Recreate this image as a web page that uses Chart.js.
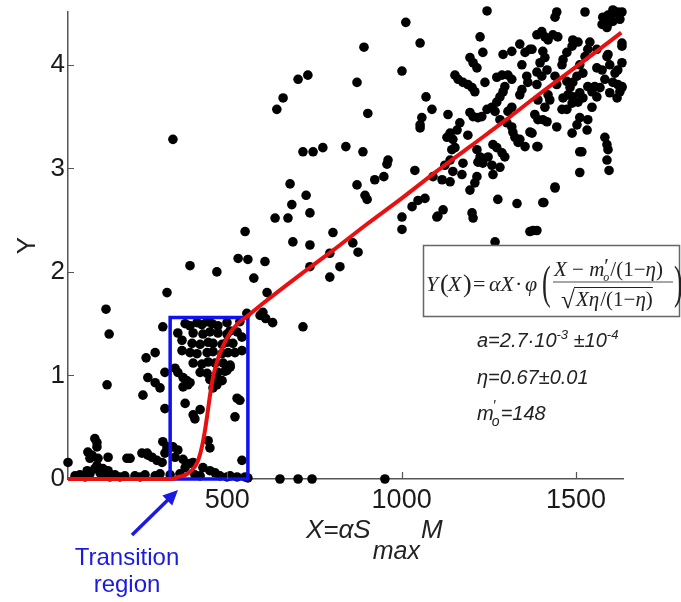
<!DOCTYPE html>
<html>
<head>
<meta charset="utf-8">
<script src="https://cdn.jsdelivr.net/npm/chart.js@4.4.1/dist/chart.umd.min.js"></script>
<style>
  html, body { margin: 0; padding: 0; background: #fff; }
  #wrap { width: 681px; height: 602px; position: relative; }
</style>
</head>
<body>
<div id="wrap"><canvas id="myChart"></canvas></div>
<script>
// Punkte nahe Null (links unten)
const baselinePts = [
  [43,0.16],[63,0.03],[77,0.04],[92,0.02],[98,0.08],[100,0.26],[106,0.20],[106,0.05],[112,0.23],[120,0.39],
  [120,0.10],[126,0.35],[126,0.31],[126,0.13],[129,0.20],[135,0.06],[143,0.10],[149,0.03],[158,0.21],[158,0.08],
  [163,0.02],[178,0.04],[192,0.02],[206,0.03],[212,0.20],[221,0.20],[235,0.03],[250,0.02],[255,0.25],[264,0.04],
  [270,0.25],[272,0.23],[284,0.21],[293,0.03],[298,0.18],[307,0.05],[313,0.16],[315,0.36],[321,0.25],[327,0.31],
  [327,0.28],[336,0.04],[344,0.31],[350,0.21],[358,0.28],[364,0.05],[373,0.19],[379,0.11],[393,0.15],[402,0.16],
  [407,0.04],[422,0.03],[430,0.11],[450,0.08],[465,0.06],[479,0.03],[499,0.02],[508,0.03],[528,0.02],[542,0.18],
  [551,0.02],[559,0.01],[651,0],[703,0],[743,0],[952,0]
];

// Punkte im Übergangsbereich
const transitionPts = [
  [152,1.64],[161,1.40],[155,0.91],[258,0.81],[267,1.17],[272,0.98],[293,1.22],[293,0.93],[307,0.88],[315,1.47],
  [321,1.03],[321,0.68],[350,1.07],[358,1.03],[373,0.98],[384,0.95],[393,0.93],[373,0.89],[387,0.91],[379,0.73],
  [370,1.34],[370,1.24],[402,0.62],[407,0.58],[422,0.67],[445,0.37],[450,0.30],[459,0.88],[470,0.91],[528,0.78],
  [522,0.60],[499,1.05],[508,1.08],[536,1.52],[528,1.42],[542,1.37],[542,1.24],[536,0.76],
  [379,1.50],[393,1.48],[413,1.51],[427,1.49],[442,1.52],[456,1.50],[473,1.48],[499,1.51],
  [358,1.41],[402,1.41],[430,1.40],[450,1.42],[473,1.41],[499,1.40],[508,1.43],
  [399,1.31],[422,1.30],[445,1.32],[459,1.31],[485,1.30],[499,1.32],[516,1.31],
  [393,1.22],[413,1.21],[442,1.22],[459,1.23],[485,1.21],[502,1.22],[522,1.22],
  [402,1.12],[427,1.11],[445,1.13],[465,1.12],[488,1.12],[508,1.10],
  [422,1.03],[442,1.02],[473,1.03],[493,1.04],[450,0.96],[470,0.97],[485,0.95],
  [556,1.60],[594,1.58],[602,1.61],[610,1.55],[630,1.51],[717,1.47]
];

// mittlerer Bereich
const midPts = [
  [344,3.28],[642,3.57],[660,3.68],[703,3.86],[731,3.90],[717,3.16],[746,3.16],[774,3.20],[680,2.85],[726,2.74],
  [685,2.65],[737,2.57],[637,2.52],[674,2.52],[551,2.39],[688,2.29],[737,2.26],[531,2.13],[559,2.12],[608,2.10],
  [393,2.06],[470,2.00],[576,1.94],[614,1.80],[327,1.80],[737,2.05],[794,1.95],[794,2.18],[803,2.38],[823,2.05],
  [903,3.53],[840,3.21],[889,3.16],[961,3.08],[958,3.04],[1038,2.98],[923,2.89],[949,2.92],[872,2.84],[895,2.74],
  [901,2.70],[1030,2.63],[1047,2.69],[1067,2.71],[1001,2.53],[1001,2.41],[1090,2.92],[1101,2.53],[1058,3.49],[1087,3.57],
  [1053,3.39],[860,2.28],[875,2.19],[1245,4.52],[1012,4.41],[1053,4.21],[892,4.17],[1001,3.94],[872,3.83],[1070,3.69],
  [1053,3.42]
];

// dichte Wolke oben rechts
const cloudPts = [
  [1225,4.27],[1233,4.12],[1196,4.07],[1205,4.02],[1216,3.97],[1153,3.90],[1162,3.86],[1176,3.83],[1190,3.81],[1202,3.78],
  [1210,3.74],[1239,3.83],[1273,3.88],[1291,4.10],[1316,4.13],[1339,4.20],[1354,4.12],[1368,4.15],[1345,4.00],[1288,3.90],
  [1305,3.90],[1316,3.86],[1296,3.79],[1291,3.74],[1282,3.69],[1273,3.64],[1359,3.89],[1362,3.83],[1345,3.76],[1339,3.71],
  [1388,3.93],[1388,3.81],[1133,3.52],[1196,3.54],[1205,3.50],[1219,3.49],[1230,3.50],[1245,3.57],[1259,3.59],[1268,3.55],
  [1167,3.44],[1159,3.37],[1139,3.34],[1130,3.30],[1147,3.28],[1190,3.32],[1282,3.47],[1305,3.55],[1316,3.59],[1302,3.44],
  [1316,3.40],[1319,3.35],[1325,3.30],[1339,3.28],[1334,3.25],[1354,3.21],[1368,3.35],[1391,3.47],[1388,3.21],[1144,3.18],
  [1153,3.20],[1216,3.18],[1225,3.11],[1219,3.06],[1233,3.05],[1248,3.11],[1262,3.23],[1273,3.20],[1288,3.15],[1296,3.11],
  [1176,3.05],[1124,3.03],[1116,2.89],[1147,2.97],[1173,2.94],[1216,2.92],[1210,2.86],[1259,3.03],[1262,2.94],[1282,3.01],
  [1196,2.79],[1276,2.70],[1331,2.66],[1119,2.60],[1104,2.54],[1202,2.57],[1205,2.52],[1368,2.39],[1388,2.40],[1268,2.29],
  [1139,2.87],[1139,3.08],[1440,2.82],[1408,2.67],[1511,2.96],[1511,3.16],[1589,3.08],[1595,2.98],[1583,3.30],[1589,3.23],
  [1592,3.18],[1445,4.51],[1440,4.46],[1526,4.51],[1592,4.48],[1606,4.50],[1620,4.51],[1632,4.51],[1575,4.39],[1589,4.36],
  [1606,4.42],[1626,4.44],[1388,4.29],[1402,4.32],[1411,4.27],[1420,4.24],[1434,4.29],[1448,4.27],[1491,4.24],[1506,4.22],
  [1489,4.18],[1474,4.12],[1463,4.05],[1460,4.00],[1374,4.15],[1405,4.13],[1397,4.02],[1411,4.07],[1540,4.22],[1534,4.15],
  [1526,4.08],[1560,4.15],[1592,4.10],[1597,4.00],[1402,3.89],[1417,3.95],[1440,3.89],[1445,3.81],[1511,4.00],[1520,3.92],
  [1503,3.89],[1491,3.83],[1483,3.78],[1474,3.84],[1560,3.97],[1575,3.95],[1583,3.86],[1554,3.79],[1569,3.78],[1612,3.92],
  [1620,3.81],[1626,3.74],[1632,3.78],[1606,3.83],[1618,3.68],[1597,3.73],[1420,3.71],[1425,3.66],[1411,3.59],[1391,3.66],
  [1382,3.52],[1463,3.68],[1477,3.71],[1491,3.69],[1511,3.73],[1520,3.68],[1506,3.64],[1489,3.63],[1474,3.57],[1460,3.57],
  [1534,3.79],[1546,3.74],[1560,3.69],[1546,3.59],[1511,3.49],[1503,3.42],[1489,3.34],[1534,3.47],[1532,3.37],[1445,3.40],
  [1405,3.47],[1417,3.45],[1374,3.34],[1391,3.21],[1517,3.16],[1440,2.81],[1405,2.67],[1377,2.40],[1606,4.53],[1577,4.46],
  [1597,4.41],[1632,4.21],[1632,4.18],[1589,4.08],[1632,4.02],[1620,3.95],[1632,3.79]
];

// rote Fitkurve
const fitX = [43,340,360,380,400,415,425,435,443,450,460,472,490,510,530,560,600,700,800,900,1000,1100,1200,1300,1400,1500,1630];
const fitY = [0,0,0.02,0.04,0.09,0.17,0.28,0.45,0.63,0.8,1.0,1.15,1.3,1.42,1.5,1.58,1.69,1.95,2.2,2.46,2.71,2.97,3.22,3.47,3.73,3.98,4.31];

// blaues Rechteck "Transition region"
const boxX = [336,336,559,559,336,336];
const boxY = [0,1.56,1.56,0,0,1.56];

const xTicks = [500, 1000, 1500];
const yTicks = [0, 1, 2, 3, 4];

const scatterData = [...baselinePts, ...transitionPts, ...midPts, ...cloudPts].map(p => ({x: p[0], y: p[1]}));
const fitData = fitX.map((v, i) => ({x: v, y: fitY[i]}));
const boxData = boxX.map((v, i) => ({x: v, y: boxY[i]}));

const SANS = '"Liberation Sans", Arial, sans-serif';
const SERIF = '"Liberation Serif", "Times New Roman", serif';
Chart.defaults.font.family = SANS;

// Text in Stücken zeichnen (für Hoch-/Tiefstellung)
function drawRuns(ctx, x, y, runs) {
  runs.forEach(r => {
    ctx.font = r.f;
    ctx.fillText(r.t, x, y + (r.dy || 0));
    x += ctx.measureText(r.t).width + (r.gap || 0);
  });
  return x;
}

// schmale, hohe Klammer
function tallParen(ctx, t, px, py) {
  ctx.save();
  ctx.translate(px, py);
  ctx.scale(1, 1.75);
  ctx.font = "26px " + SERIF;
  ctx.fillText(t, 0, 0);
  ctx.restore();
}

const annotations = {
  id: "annotations",
  afterDraw(chart) {
    const {ctx, scales: {x, y}} = chart;
    ctx.save();

    // Ticks nach innen
    ctx.strokeStyle = "#555";
    ctx.lineWidth = 1.2;
    ctx.beginPath();
    xTicks.forEach(v => {
      const px = Math.round(x.getPixelForValue(v)) + 0.5;
      ctx.moveTo(px, y.bottom);
      ctx.lineTo(px, y.bottom - 7);
    });
    yTicks.slice(1).forEach(v => {
      const py = Math.round(y.getPixelForValue(v)) + 0.5;
      ctx.moveTo(x.left, py);
      ctx.lineTo(x.left + 6, py);
    });
    ctx.stroke();

    ctx.textBaseline = "alphabetic";
    ctx.textAlign = "left";

    // x-Achsentitel
    ctx.fillStyle = "#222";
    let cx = drawRuns(ctx, 306, 538, [{t: "X=\u03B1S", f: "italic 26px " + SANS}]);
    cx = drawRuns(ctx, cx + 2, 559, [{t: "max", f: "italic 25px " + SANS}]);
    drawRuns(ctx, cx + 1, 538, [{t: "M", f: "italic 26px " + SANS}]);

    // Transition region
    ctx.fillStyle = "#1a1ae0";
    ctx.strokeStyle = "#1a1ae0";
    ctx.font = "24px " + SANS;
    ctx.textAlign = "center";
    ctx.fillText("Transition", 127, 565);
    ctx.fillText("region", 127, 592);
    ctx.textAlign = "left";
    // Pfeil
    const tx = 178, ty = 490, sx = 132, sy = 535;
    const ang = Math.atan2(ty - sy, tx - sx);
    ctx.lineWidth = 3.5;
    ctx.beginPath();
    ctx.moveTo(sx, sy);
    ctx.lineTo(tx - 10 * Math.cos(ang), ty - 10 * Math.sin(ang));
    ctx.stroke();
    ctx.beginPath();
    ctx.moveTo(tx, ty);
    ctx.lineTo(tx - 15 * Math.cos(ang) + 7 * Math.sin(ang), ty - 15 * Math.sin(ang) - 7 * Math.cos(ang));
    ctx.lineTo(tx - 15 * Math.cos(ang) - 7 * Math.sin(ang), ty - 15 * Math.sin(ang) + 7 * Math.cos(ang));
    ctx.closePath();
    ctx.fill();

    // Formelkasten
    ctx.fillStyle = "#fff";
    ctx.fillRect(423, 245, 258, 72);
    ctx.strokeStyle = "#666";
    ctx.lineWidth = 1.5;
    ctx.strokeRect(423.5, 245.5, 256, 71);
    ctx.fillStyle = "#222";
    const it22 = "italic 22px " + SERIF, n22 = "22px " + SERIF;
    const it21 = "italic 21px " + SERIF, n21 = "21px " + SERIF;
    const put = (t, f, px, py) => { ctx.font = f; ctx.fillText(t, px, py); };
    put("Y", it22, 426, 291);
    put("(", "26px " + SERIF, 440, 292);
    put("X", it22, 448, 291);
    put(")", "26px " + SERIF, 463, 292);
    put("=", n22, 473, 291);
    put("\u03B1X", it22, 489, 291);
    put("\u00B7", n22, 515, 291);
    put("\u03C6", it22, 525, 291);
    tallParen(ctx, "(", 542, 298);
    tallParen(ctx, ")", 674, 298);
    // Zähler
    let nx = drawRuns(ctx, 554, 276, [{t: "X", f: it21}, {t: " \u2212 ", f: n21}, {t: "m", f: it21}]);
    ctx.font = n21; ctx.fillText("\u2032", nx, 273);
    ctx.font = "italic 12px " + SERIF; ctx.fillText("o", nx - 1, 281);
    drawRuns(ctx, nx + 6, 276, [{t: "/(1\u2212", f: n21}, {t: "\u03B7", f: it21}, {t: ")", f: n21}]);
    ctx.strokeStyle = "#888";
    ctx.lineWidth = 1.5;
    ctx.beginPath(); ctx.moveTo(553, 282); ctx.lineTo(673, 282); ctx.stroke();
    // Nenner
    ctx.font = "25px " + SERIF;
    ctx.fillText("\u221A", 561, 308);
    const dEnd = drawRuns(ctx, 576, 306, [{t: "X\u03B7", f: it21, gap: 1}, {t: "/(1\u2212", f: n21}, {t: "\u03B7", f: it21}, {t: ")", f: n21}]);
    ctx.strokeStyle = "#222"; ctx.lineWidth = 1;
    ctx.beginPath(); ctx.moveTo(574, 287.5); ctx.lineTo(dEnd, 287.5); ctx.stroke();

    // Parameter
    ctx.fillStyle = "#222";
    const p20 = "italic 20px " + SANS, p13 = "italic 13px " + SANS;
    drawRuns(ctx, 477, 347, [
      {t: "a=2.7\u00B710", f: p20}, {t: "-3", f: p13, dy: -8}, {t: " \u00B110", f: p20}, {t: "-4", f: p13, dy: -8}
    ]);
    drawRuns(ctx, 477, 384, [{t: "\u03B7=0.67\u00B10.01", f: p20}]);
    let mx = drawRuns(ctx, 477, 420, [{t: "m", f: p20}]);
    ctx.font = "italic 14px " + SANS;
    ctx.fillText("\u2032", mx - 1, 410);
    ctx.fillText("o", mx - 2, 426);
    drawRuns(ctx, mx + 7, 420, [{t: "=148", f: p20}]);

    ctx.restore();
  }
};

const config = {
  type: "scatter",
  data: {
    datasets: [
      {
        label: "Fit",
        data: fitData,
        showLine: true,
        borderColor: "#e81010",
        borderWidth: 4,
        pointRadius: 0,
        cubicInterpolationMode: "monotone",
        clip: false,
        order: 1
      },
      {
        label: "Transition region",
        data: boxData,
        showLine: true,
        borderColor: "#1010f0",
        borderWidth: 3.5,
        borderJoinStyle: "miter",
        pointRadius: 0,
        tension: 0,
        clip: false,
        order: 2
      },
      {
        label: "Daten",
        data: scatterData,
        pointRadius: 4.8,
        pointHoverRadius: 4.8,
        backgroundColor: "#000",
        borderWidth: 0,
        clip: false,
        order: 3
      }
    ]
  },
  options: {
    responsive: true,
    maintainAspectRatio: false,
    animation: false,
    layout: { padding: { top: 12, right: 58, left: 0, bottom: 0 } },
    scales: {
      x: {
        type: "linear",
        position: "bottom",
        min: 43,
        max: 1635,
        afterBuildTicks: s => { s.ticks = xTicks.map(v => ({value: v})); },
        afterFit: s => { s.height = 123; s.paddingLeft = 0; s.paddingRight = 0; },
        grid: { display: false, drawTicks: false },
        border: { display: true, color: "#555", width: 1.5 },
        ticks: { color: "#1a1a1a", font: { size: 27 }, padding: 5, maxRotation: 0, autoSkip: false,
                 callback: v => String(v) }
      },
      y: {
        min: 0,
        max: 4.51,
        afterBuildTicks: s => { s.ticks = yTicks.map(v => ({value: v})); },
        afterFit: s => { s.width = 68; s.paddingTop = 0; s.paddingBottom = 0; },
        grid: { display: false, drawTicks: false },
        border: { display: true, color: "#555", width: 1.5 },
        ticks: { color: "#1a1a1a", font: { size: 26 }, padding: 3, callback: v => String(v) },
        title: { display: true, text: "Y", color: "#222", font: { size: 26 }, padding: { top: 12, bottom: 0 } }
      }
    },
    plugins: {
      legend: { display: false },
      tooltip: { enabled: false }
    },
    events: []
  },
  plugins: [annotations]
};

const myChart = new Chart(document.getElementById("myChart"), config);
</script>
</body>
</html>
